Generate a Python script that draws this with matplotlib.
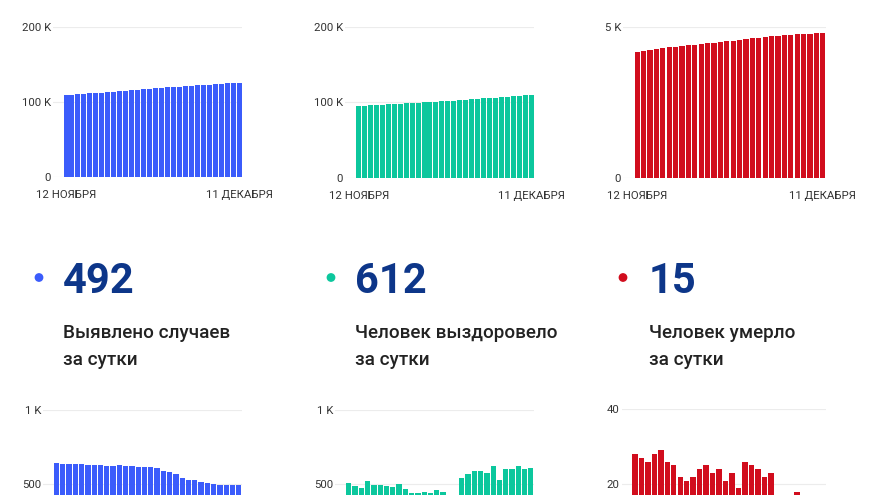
import matplotlib.pyplot as plt
import numpy as np

plt.rcParams['font.family'] = ['Roboto', 'DejaVu Sans']

### Data, 12 Nov .. 11 Dec ###
cases_total = [108853, 109486, 110119, 110756, 111389, 112020, 112651, 113280, 113904, 114528,
               115155, 115777, 116399, 117017, 117635, 118251, 118861, 119451, 120032, 120599,
               121139, 121668, 122195, 122713, 123220, 123722, 124220, 124715, 125208, 125700]
recovered_total = [94936, 95426, 95898, 96419, 96914, 97409, 97895, 98377, 98881, 99347,
                   99791, 100233, 100679, 101121, 101583, 102031, 102436, 102856, 103397, 103965,
                   104555, 105141, 105716, 106337, 106867, 107466, 108065, 108684, 109288, 109900]
deaths_total = [4176, 4203, 4229, 4257, 4286, 4312, 4337, 4359, 4380, 4402,
                4426, 4451, 4474, 4498, 4519, 4542, 4561, 4587, 4612, 4636,
                4658, 4681, 4697, 4711, 4727, 4745, 4758, 4774, 4786, 4801]

cases_daily = [642, 633, 633, 637, 633, 631, 631, 629, 624, 624,
               627, 622, 622, 618, 618, 616, 610, 590, 581, 567,
               540, 529, 527, 518, 507, 502, 498, 495, 493, 492]
recovered_daily = [512, 490, 472, 521, 495, 495, 486, 482, 504, 466,
                   444, 442, 446, 442, 462, 448, 405, 420, 541, 568,
                   590, 586, 575, 621, 530, 599, 599, 619, 604, 612]
deaths_daily = [28, 27, 26, 28, 29, 26, 25, 22, 21, 22,
                24, 25, 23, 24, 21, 23, 19, 26, 25, 24,
                22, 23, 16, 14, 16, 18, 13, 16, 12, 15]

date_labels = ['12 НОЯБРЯ', '11 ДЕКАБРЯ']
headline = ['492', '612', '15']
captions = [['Выявлено случаев', 'за сутки'],
            ['Человек выздоровело', 'за сутки'],
            ['Человек умерло', 'за сутки']]

BLUE = '#3b5cfb'
GREEN = '#0cc79d'
RED = '#d10d1d'
NAVY = '#0d3689'

W, H = 880, 495
fig = plt.figure(figsize=(W / 100, H / 100), dpi=100)
fig.patch.set_facecolor('white')


def px_axes(x0, x1, ytop, ybot):
    #axes placed by pixel edges (y measured from the top)
    return fig.add_axes([x0 / W, 1 - ybot / H, (x1 - x0) / W, (ybot - ytop) / H])


def bar_panel(ax, values, color, ymax, yticks, ylabels, pad_slots, xlabels=None):
    x = np.arange(len(values))
    ax.bar(x, values, width=0.84, color=color, zorder=2)
    ax.set_xlim(-0.5 - pad_slots, len(values) - 0.5)
    ax.set_ylim(0, ymax)
    ax.set_yticks(yticks, ylabels)
    ax.grid(axis='y', color='#ececec', lw=0.8, zorder=0)
    for s in ax.spines.values():
        s.set_visible(False)
    ax.tick_params(axis='y', length=0, pad=1.5, labelsize=8.2, labelcolor='#333333')
    if xlabels:
        ax.set_xticks([0, len(values) - 1], xlabels)
        ax.tick_params(axis='x', length=0, pad=9.5, labelsize=8.2, labelcolor='#333333')
    else:
        ax.set_xticks([])
    ax.set_facecolor('none')


### top row: totals ###
ax = px_axes(53, 242, 27, 177)
bar_panel(ax, cases_total, BLUE, 200000, [0, 100000, 200000], ['0', '100 K', '200 K'], 1.68, date_labels)
ax = px_axes(345, 534, 27, 177.7)
bar_panel(ax, recovered_total, GREEN, 200000, [0, 100000, 200000], ['0', '100 K', '200 K'], 1.8, date_labels)
ax = px_axes(623, 826, 26.7, 177.7)
bar_panel(ax, deaths_total, RED, 5000, [0, 5000], ['0', '5 K'], 1.72, date_labels)

### bottom row: daily (cut by the figure edge, so the 0 tick is off-picture) ###
ax = px_axes(43, 242, 409.5, 559.1)
bar_panel(ax, cases_daily, BLUE, 1000, [500, 1000], ['500', '1 K'], 1.64)
ax = px_axes(335, 534, 409.5, 559.1)
bar_panel(ax, recovered_daily, GREEN, 1000, [500, 1000], ['500', '1 K'], 1.7)
ax = px_axes(621.7, 826, 409, 559.6)
bar_panel(ax, deaths_daily, RED, 40, [20, 40], ['20', '40'], 1.54)

### headline numbers ###
overlay = fig.add_axes([0, 0, 1, 1])
overlay.set_xlim(0, W)
overlay.set_ylim(H, 0)
overlay.axis('off')
overlay.patch.set_visible(False)

dot_x = [39, 331, 623]
text_x = [63, 355, 649]
overlay.scatter(dot_x, [277.5] * 3, s=40, c=[BLUE, GREEN, RED], linewidths=0)
for i in range(3):
    overlay.text(text_x[i], 293, headline[i], fontsize=30, fontweight='bold', color=NAVY, va='baseline')
    overlay.text(text_x[i], 337.5, captions[i][0], fontsize=13.6, fontweight='medium', color='#222222', va='baseline')
    overlay.text(text_x[i], 365, captions[i][1], fontsize=13.6, fontweight='medium', color='#222222', va='baseline')

fig.savefig('out.png', dpi=100)
